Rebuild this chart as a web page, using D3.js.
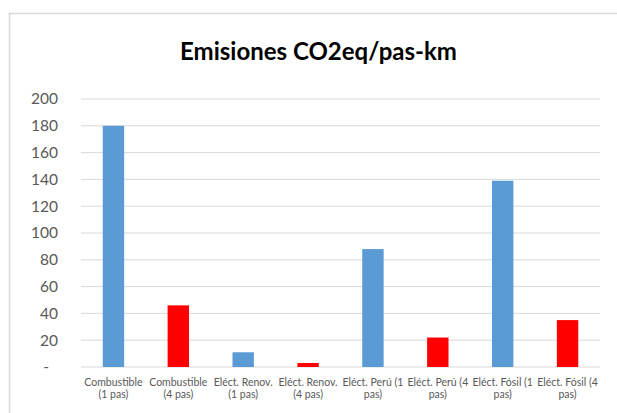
<!DOCTYPE html>
<html><head><meta charset="utf-8">
<script src="https://cdn.jsdelivr.net/npm/d3@7"></script>
<style>body{margin:0;background:#fff}svg{display:block}</style>
</head><body>
<script>
const categories = ["Combustible (1 pas)","Combustible (4 pas)","Eléct. Renov. (1 pas)","Eléct. Renov. (4 pas)","Eléct. Perú (1 pas)","Eléct. Perú (4 pas)","Eléct. Fósil (1 pas)","Eléct. Fósil (4 pas)"];
const labelLines = [["Combustible","(1 pas)"],["Combustible","(4 pas)"],["Eléct. Renov.","(1 pas)"],["Eléct. Renov.","(4 pas)"],["Eléct. Perú (1","pas)"],["Eléct. Perú (4","pas)"],["Eléct. Fósil (1","pas)"],["Eléct. Fósil (4","pas)"]];
const values = [180, 46, 11, 3, 88, 22, 139, 35];
const barColors = ["#5b9bd5","#ff0000","#5b9bd5","#ff0000","#5b9bd5","#ff0000","#5b9bd5","#ff0000"];
const yTicks = [0,20,40,60,80,100,120,140,160,180,200];
const title = "Emisiones CO2eq/pas-km";

const W = 617, H = 413;
const m = {left:81, right:17, top:99, bottom:46};
const font = "Lato, 'Open Sans', sans-serif";
const svg = d3.select("body").append("svg").attr("width",W).attr("height",H);

// chart border
svg.append("path").attr("d",`M9.5,${H} V13.5 H${W}`).attr("fill","none").attr("stroke","#d9d9d9").attr("stroke-width",1.5);

const x = d3.scaleBand().domain(categories).range([m.left, W-m.right]).paddingInner(0.67).paddingOuter(0.335);
const y = d3.scaleLinear().domain([0,200]).range([H-m.bottom, m.top]);

// gridlines
svg.append("g").selectAll("line").data(yTicks).join("line")
  .attr("x1",m.left).attr("x2",W-m.right)
  .attr("y1",d=>y(d)).attr("y2",d=>y(d))
  .attr("stroke","#d9d9d9").attr("stroke-width",1);

// y axis
const yAxis = svg.append("g").attr("transform",`translate(${m.left-23},0)`)
  .call(d3.axisLeft(y).tickValues(yTicks).tickSize(0).tickPadding(0).tickFormat(d=>d===0?"-":d));
yAxis.select(".domain").remove();
yAxis.selectAll("text").attr("font-family",font).attr("font-size",15.5).attr("fill","#595959")
  .attr("dx",d=>d===0?-9:0);

// bars
svg.append("g").selectAll("rect").data(values).join("rect")
  .attr("x",(d,i)=>x(categories[i]))
  .attr("width",x.bandwidth())
  .attr("y",d=>y(d))
  .attr("height",d=>y(0)-y(d))
  .attr("fill",(d,i)=>barColors[i]);

// x labels (two lines each)
const xl = svg.append("g");
categories.forEach((c,i)=>{
  const cx = x(c)+x.bandwidth()/2;
  const t = xl.append("text").attr("x",cx).attr("y",386)
    .attr("text-anchor","middle").attr("font-family",font).attr("font-size",10.5).attr("fill","#595959");
  labelLines[i].forEach((ln,k)=>{
    t.append("tspan").attr("x",cx).attr("dy",k===0?0:11.5).text(ln);
  });
});

// title
svg.append("text").attr("x",318.5).attr("y",60).attr("text-anchor","middle")
  .attr("font-family",font).attr("font-weight","bold").attr("font-size",24).attr("fill","#000").text(title);
</script>
</body></html>
